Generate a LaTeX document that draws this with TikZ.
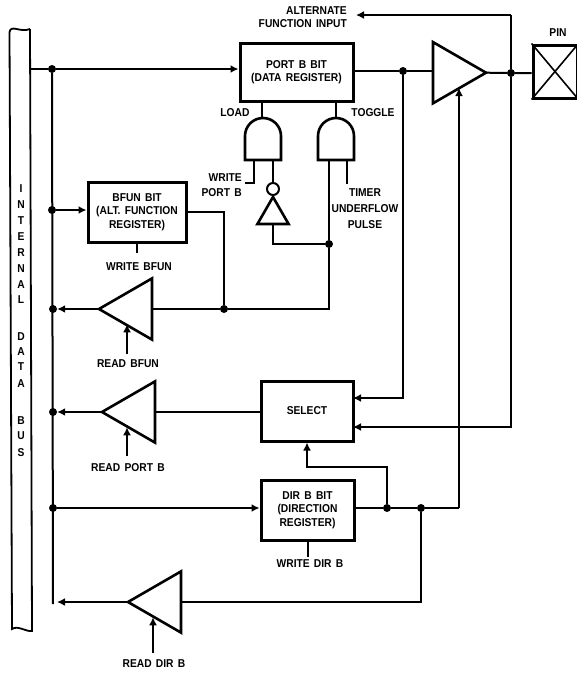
\documentclass[tikz,border=0pt]{standalone}
\usepackage{fontspec}
\setmainfont{Liberation Sans}[FakeStretch=0.9,WordSpace=1.5]
\usetikzlibrary{arrows.meta, positioning, shapes.geometric}

\tikzset{
  wire/.style={line width=2pt},
  sig/.style={wire, -{Latex[length=8pt,width=8pt]}},
  lbl/.style={font=\fontsize{11.4}{13.5}\selectfont\bfseries, align=center, inner sep=0pt},
  regbox/.style={lbl, draw, line width=3pt, minimum width=92pt, minimum height=60pt},
  dot/.style={circle, fill, inner sep=0pt, minimum size=8pt},
  buf/.style={draw, line width=2.6pt, isosceles triangle, isosceles triangle apex angle=60,
    inner sep=0pt, outer sep=0pt, minimum height=53pt, anchor=apex, shape border rotate=180},
  gate/.style={draw, line width=2.6pt},
}

\begin{document}
\begin{tikzpicture}[x=1pt, y=-1pt]
\useasboundingbox (0,0) rectangle (576,675);

% bus
\draw[line width=1.8pt] (9.5,32) .. controls (11,24) and (20,33) .. (30,29);
\draw[line width=1.8pt] (9.5,32) -- (12,629) .. controls (18,625) and (26,632) .. (32,631) -- (30,29);
\foreach \ch/\ypos in {I/189,N/205,T/221,E/237,R/253,N/269,A/285,L/300,D/337,A/352,T/367,A/384,B/421,U/436,S/453}
  \node[lbl] at (21,\ypos) {\ch};

% registers
\node[regbox, minimum width=113pt, minimum height=58pt] (portb) at (296.5,72) {PORT B BIT\\(DATA REGISTER)};
\node[regbox, minimum width=98pt] (bfun) at (137,212) {BFUN BIT\\(ALT. FUNCTION\\REGISTER)};
\node[regbox] (select) at (307,411) {SELECT};
\node[regbox, minimum width=93pt] (dirb) at (307.5,510) {DIR B BIT\\(DIRECTION\\REGISTER)};
\node[draw, line width=3pt, minimum width=44pt, minimum height=53pt] (pin) at (555,71.5) {};
\draw[line width=1.6pt] (pin.north west) -- (pin.south east) (pin.north east) -- (pin.south west);
\node[lbl, above=7pt of pin, xshift=3pt] (pinlbl) {PIN};

% buffers
\node[buf, shape border rotate=0] (outamp) at (486,72.7) {};
\node[buf] (bfamp) at (99,309) {};
\node[buf] (pbamp) at (102,412) {};
\node[buf] (dramp) at (128,602) {};

% gates
\draw[gate] (245,160) -- (245,136) arc[start angle=180, end angle=0, radius=18pt] -- (281,160) -- cycle;
\draw[gate] (318,160) -- (318,136) arc[start angle=180, end angle=0, radius=18pt] -- (354,160) -- cycle;
\coordinate (loadout) at (262,118);
\coordinate (togout) at (336,118);
\coordinate (loada) at (254,160);
\coordinate (loadb) at (273,160);
\coordinate (toga) at (329,160);
\coordinate (togb) at (347,160);

% inverter
\node[draw, circle, line width=2pt, inner sep=0pt, minimum size=12pt] (bubble) at (273,189) {};
\node[draw, line width=2.6pt, isosceles triangle, isosceles triangle apex angle=60, inner sep=0pt,
  outer sep=0pt, minimum height=27pt, anchor=apex, shape border rotate=90] (inv) at (273,197) {};

% labels
\node[lbl, align=right, anchor=east] (altin) at (347,17) {ALTERNATE\\FUNCTION INPUT};
\node[lbl] (load) at (235,113) {LOAD};
\node[lbl] (toggle) at (373,113) {TOGGLE};
\node[lbl, align=right, anchor=east] (wrport) at (242,185) {WRITE\\[1.5pt]PORT B};
\node[lbl] (timer) at (365,209) {TIMER\\[2.5pt]UNDERFLOW\\[2.5pt]PULSE};
\node[lbl] (wrbfun) at (139,267) {WRITE BFUN};
\node[lbl] (rdbfun) at (128,364) {READ BFUN};
\node[lbl] (rdport) at (128,468) {READ PORT B};
\node[lbl] (wrdir) at (310,564) {WRITE DIR B};
\node[lbl] (rddir) at (154,664) {READ DIR B};

% junctions
\node[dot] (j1) at (52,69) {};
\node[dot] (j2) at (52,210) {};
\node[dot] (j3) at (53,309) {};
\node[dot] (j4) at (53,412) {};
\node[dot] (j5) at (53,508) {};
\node[dot] (j6) at (403,71) {};
\node[dot] (j7) at (511,73) {};
\node[dot] (j8) at (224,309) {};
\node[dot] (j9) at (329,244) {};
\node[dot] (j10) at (387,508) {};
\node[dot] (j11) at (421,508) {};

% free ends
\coordinate (busin) at (30,69);
\coordinate (busend) at (53,604);
\coordinate (drtip) at (57,602);
\coordinate (alttip) at (356,15);
\coordinate (altcor) at (511,15);
\coordinate (selin) at (353,398);
\coordinate (selalt) at (353,427);
\coordinate (selknee) at (307,467);
\coordinate (dirup) at (459,508);
\coordinate (loadwr) at (245,183);
\coordinate (timerin) at (347,184);
\coordinate (wrbfunin) at (137,253);
\coordinate (wrdirin) at (308,557);
\coordinate (rdbfunin) at (127,354);
\coordinate (rdportin) at (127,456);
\coordinate (rddirin) at (153,653);

% connectors
\draw[wire] (busin) -- (j1);
\draw[wire] (j1) -- (busend);
\draw[sig] (j1) -- (portb.west |- j1);
\draw[sig] (j2) -- (bfun.west |- j2);
\draw[sig] (bfamp.apex) -- (j3);
\draw[sig] (pbamp.apex) -- (j4);
\draw[sig] (j5) -- (dirb.west |- j5);
\draw[sig] (dramp.apex) -- (drtip);

\draw[wire] (portb.east |- j6) -- (j6) -- (outamp.lower side |- j6);
\draw[wire] (outamp.apex) -- (j7) -- (pin.west |- j7);
\draw[sig] (j6) |- (selin);
\draw[sig] (j7) |- (selalt);
\draw[wire] (j7) -- (altcor);
\draw[sig] (altcor) -- (alttip);
\draw[sig] (dirup) -- (outamp.right side -| dirup);
\draw[wire] (dirb.east |- j10) -- (j10) -- (j11) -- (dirup);
\draw[wire] (j11) |- (dramp.lower side);
\draw[sig] (j10) |- (selknee) -- (select.south);

\draw[wire] (bfun.east) -| (j8);
\draw[wire] (bfamp.lower side) -- (j8) -| (j9);
\draw[wire] (j9) -- (toga);
\draw[wire] (j9) -| (inv.lower side);
\draw[wire] (bubble) -- (loadb);
\draw[wire] (loadwr) -| (loada);
\draw[wire] (timerin) -- (togb);
\draw[wire] (loadout |- portb.south) -- (loadout);
\draw[wire] (togout |- portb.south) -- (togout);
\draw[wire] (pbamp.lower side) -- (select.west |- pbamp.lower side);

\draw[wire] (bfun.south -| wrbfunin) -- (wrbfunin);
\draw[wire] (dirb.south -| wrdirin) -- (wrdirin);
\draw[sig] (rdbfunin) -- (rdbfunin |- bfamp.left side);
\draw[sig] (rdportin) -- (rdportin |- pbamp.left side);
\draw[sig] (rddirin) -- (rddirin |- dramp.left side);
\end{tikzpicture}
\end{document}
